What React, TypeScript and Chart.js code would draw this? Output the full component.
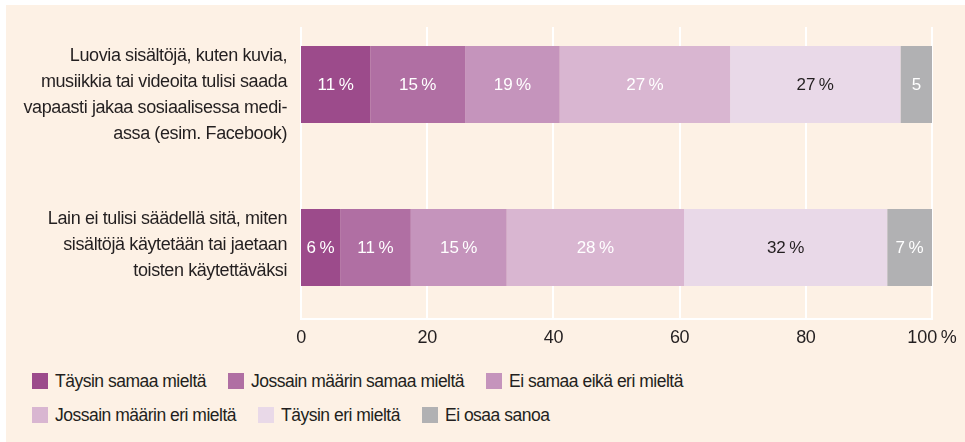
import React, { useEffect, useRef } from "react";
import { Chart, registerables } from "chart.js";

Chart.register(...registerables);

// ---- data ----
const categories: string[][] = [
  [
    "Luovia sisältöjä, kuten kuvia,",
    "musiikkia tai videoita tulisi saada",
    "vapaasti jakaa sosiaalisessa medi-",
    "assa (esim. Facebook)",
  ],
  [
    "Lain ei tulisi säädellä sitä, miten",
    "sisältöjä käytetään tai jaetaan",
    "toisten käytettäväksi",
  ],
];

const seriesNames = [
  "Täysin samaa mieltä",
  "Jossain määrin samaa mieltä",
  "Ei samaa eikä eri mieltä",
  "Jossain määrin eri mieltä",
  "Täysin eri mieltä",
  "Ei osaa sanoa",
];

const taysinSamaa = [11, 6.2];
const jossainSamaa = [15, 11.2];
const eiSamaaEikaEri = [15, 15.2];
const jossainEri = [27, 28.1];
const taysinEri = [27, 32.2];
const eiOsaa = [5, 7.1];

const taysinSamaaLabels = ["11\u202F%", "6\u202F%"];
const jossainSamaaLabels = ["15\u202F%", "11\u202F%"];
const eiSamaaEikaEriLabels = ["19\u202F%", "15\u202F%"];
const jossainEriLabels = ["27\u202F%", "28\u202F%"];
const taysinEriLabels = ["27\u202F%", "32\u202F%"];
const eiOsaaLabels = ["5", "7\u202F%"];

const xTicks = [0, 20, 40, 60, 80, 100];
const xTickLabels = ["0", "20", "40", "60", "80", "100\u202F%"];

// ---- styles ----
const FONT = "'Liberation Sans', Arial, sans-serif";
const SPACING = "-0.4px";
const TEXT = "#231f20";
const CREAM = "#fdf1e5";
const colors = ["#9c4b8b", "#b06fa3", "#c594bc", "#d9b6d1", "#e9d9e8", "#b1b1b3"];
const labelColors = ["#ffffff", "#ffffff", "#ffffff", "#ffffff", TEXT, "#ffffff"];

const seriesValues = [taysinSamaa, jossainSamaa, eiSamaaEikaEri, jossainEri, taysinEri, eiOsaa];
const seriesLabels = [
  taysinSamaaLabels,
  jossainSamaaLabels,
  eiSamaaEikaEriLabels,
  jossainEriLabels,
  taysinEriLabels,
  eiOsaaLabels,
];

const spacingPlugin = {
  id: "letterSpacing",
  beforeUpdate(chart: any) {
    chart.ctx.letterSpacing = SPACING;
  },
  beforeDraw(chart: any) {
    chart.ctx.letterSpacing = SPACING;
  },
};

const gridPlugin = {
  id: "customGrid",
  beforeDatasetsDraw(chart: any) {
    const { ctx, chartArea, scales } = chart;
    const x = scales.x;
    const top = chartArea.top + 24;
    const bottom = chartArea.bottom - 10;
    ctx.save();
    ctx.strokeStyle = "#ffffff";
    ctx.lineWidth = 2;
    xTicks.forEach((v) => {
      const px = Math.round(x.getPixelForValue(v));
      ctx.beginPath();
      ctx.moveTo(px, top);
      ctx.lineTo(px, bottom);
      ctx.stroke();
    });
    ctx.beginPath();
    ctx.moveTo(Math.round(x.getPixelForValue(0)) - 1, bottom);
    ctx.lineTo(Math.round(x.getPixelForValue(100)) + 1, bottom);
    ctx.stroke();
    ctx.restore();
  },
};

const barLabelPlugin = {
  id: "barLabels",
  afterDatasetsDraw(chart: any) {
    const { ctx } = chart;
    ctx.save();
    ctx.letterSpacing = SPACING;
    ctx.font = `17px ${FONT}`;
    ctx.textAlign = "center";
    ctx.textBaseline = "middle";
    chart.data.datasets.forEach((_ds: any, di: number) => {
      const meta = chart.getDatasetMeta(di);
      meta.data.forEach((bar: any, i: number) => {
        const { x, y, base } = bar.getProps(["x", "y", "base"], true);
        ctx.fillStyle = labelColors[di];
        ctx.fillText(seriesLabels[di][i], (x + base) / 2, y + 1);
      });
    });
    ctx.restore();
  },
};

export default function App() {
  const ref = useRef<HTMLCanvasElement | null>(null);

  useEffect(() => {
    if (!ref.current) return;
    const c2d: any = ref.current.getContext("2d");
    if (c2d) c2d.letterSpacing = SPACING;
    const chart = new Chart(ref.current, {
      type: "bar",
      data: {
        labels: categories,
        datasets: seriesNames.map((name, i) => ({
          label: name,
          data: seriesValues[i],
          backgroundColor: colors[i],
          borderWidth: 0,
          barPercentage: 77 / 163,
          categoryPercentage: 1,
        })),
      },
      options: {
        indexAxis: "y",
        responsive: false,
        maintainAspectRatio: false,
        animation: false,
        layout: { padding: { top: 3, left: 0, right: 33, bottom: 0 } },
        scales: {
          x: {
            stacked: true,
            min: 0,
            max: 100,
            grid: { display: false, drawTicks: false },
            border: { display: false },
            afterBuildTicks: (s: any) => {
              s.ticks = xTicks.map((v) => ({ value: v }));
            },
            afterFit: (s: any) => {
              s.height = 31;
            },
            ticks: {
              padding: -2,
              maxRotation: 0,
              autoSkip: false,
              color: TEXT,
              font: { family: FONT, size: 18 },
              callback: (v: any) => xTickLabels[xTicks.indexOf(Number(v))],
            },
          },
          y: {
            stacked: true,
            grid: { display: false, drawTicks: false },
            border: { display: false },
            afterFit: (s: any) => {
              s.width = 301;
              s.paddingTop = 0;
              s.paddingBottom = 0;
            },
            ticks: {
              padding: 14,
              labelOffset: 10.5,
              autoSkip: false,
              color: TEXT,
              font: { family: FONT, size: 18, lineHeight: 26 / 18 },
              callback: (_v: any, i: number) => {
                const out = [...categories[i]];
                while (out.length < 4) out.push("");
                return out;
              },
            },
          },
        },
        plugins: {
          legend: { display: false },
          tooltip: { enabled: false },
        },
      },
      plugins: [spacingPlugin, gridPlugin, barLabelPlugin],
    } as any);
    return () => chart.destroy();
  }, []);

  return (
    <div style={{ position: "absolute", left: 0, top: 0, width: 965, height: 442, background: "#ffffff", overflow: "hidden" }}>
      <div style={{ position: "absolute", left: 6, top: 5, width: 959, height: 437, background: CREAM }} />
      <canvas ref={ref} width={965} height={360} style={{ position: "absolute", left: 0, top: 0, width: 965, height: 360 }} />
      <div
        style={{
          position: "absolute",
          left: 32,
          top: 373,
          width: 760,
          display: "flex",
          flexWrap: "wrap",
          columnGap: 22,
          rowGap: 18,
          fontFamily: FONT,
          fontSize: 17.5,
          letterSpacing: "-0.5px",
          color: TEXT,
        }}
      >
        {seriesNames.map((name, i) => (
          <div key={name} style={{ display: "flex", alignItems: "center", height: 16, lineHeight: "16px", whiteSpace: "nowrap" }}>
            <span style={{ display: "inline-block", width: 16, height: 16, background: colors[i], marginRight: 7 }} />
            <span>{name}</span>
          </div>
        ))}
      </div>
    </div>
  );
}
